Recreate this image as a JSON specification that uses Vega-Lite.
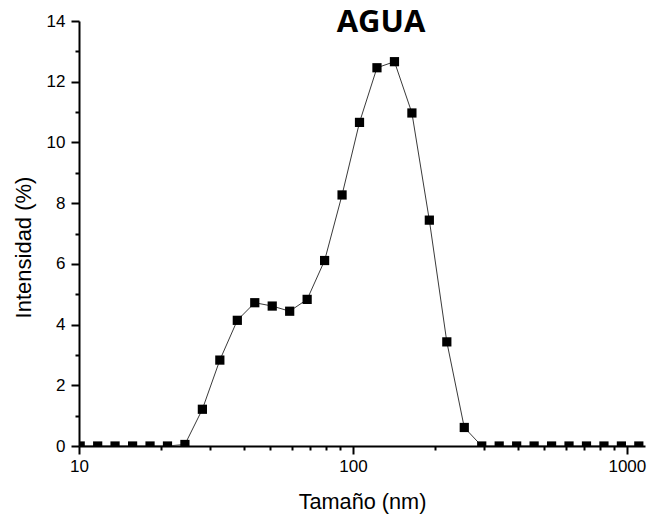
{
  "$schema": "https://vega.github.io/schema/vega-lite/v6.json",
  "width": 566,
  "height": 425,
  "autosize": {"type": "none"},
  "padding": {"left": 79, "top": 21, "right": 2, "bottom": 70},
  "background": "white",
  "title": {
    "text": "AGUA",
    "font": "Open Sans",
    "fontWeight": "bold",
    "fontSize": 31,
    "color": "black",
    "anchor": "middle",
    "frame": "group",
    "baseline": "alphabetic",
    "dx": 19,
    "offset": -51
  },
  "data": {
    "values": [
      {"size": 10.1, "intensity": 0},
      {"size": 11.7, "intensity": 0},
      {"size": 13.54, "intensity": 0},
      {"size": 15.69, "intensity": 0},
      {"size": 18.17, "intensity": 0},
      {"size": 21.04, "intensity": 0},
      {"size": 24.36, "intensity": 0.05},
      {"size": 28.21, "intensity": 1.21},
      {"size": 32.67, "intensity": 2.83},
      {"size": 37.84, "intensity": 4.14},
      {"size": 43.82, "intensity": 4.72},
      {"size": 50.75, "intensity": 4.61},
      {"size": 58.77, "intensity": 4.44},
      {"size": 68.06, "intensity": 4.83},
      {"size": 78.82, "intensity": 6.11},
      {"size": 91.28, "intensity": 8.27},
      {"size": 105.7, "intensity": 10.66},
      {"size": 122.4, "intensity": 12.46},
      {"size": 141.8, "intensity": 12.66},
      {"size": 164.2, "intensity": 10.97},
      {"size": 190.1, "intensity": 7.44},
      {"size": 220.2, "intensity": 3.43},
      {"size": 255.0, "intensity": 0.61},
      {"size": 295.3, "intensity": 0},
      {"size": 342.0, "intensity": 0},
      {"size": 396.1, "intensity": 0},
      {"size": 458.7, "intensity": 0},
      {"size": 531.2, "intensity": 0},
      {"size": 615.1, "intensity": 0},
      {"size": 712.4, "intensity": 0},
      {"size": 825.0, "intensity": 0},
      {"size": 955.4, "intensity": 0},
      {"size": 1106, "intensity": 0}
    ]
  },
  "layer": [
    {
      "mark": {"type": "line", "color": "#3a3a3a", "strokeWidth": 1, "clip": true},
      "encoding": {
        "x": {
          "field": "size",
          "type": "quantitative",
          "scale": {"type": "log", "domain": [10, 1165], "nice": false},
          "axis": {
            "orient": "bottom",
            "title": "Tamaño (nm)",
            "values": [10, 100, 1000],
            "format": "d",
            "grid": false,
            "domainColor": "black",
            "domainWidth": 2,
            "tickColor": "black",
            "tickWidth": 2,
            "tickSize": 8,
            "labelFont": "Liberation Sans",
            "labelFontSize": 17,
            "labelColor": "black",
            "labelPadding": 4,
            "labelFlush": false,
            "titleFont": "Liberation Sans",
            "titleFontSize": 21.7,
            "titleFontWeight": "normal",
            "titleColor": "black",
            "titleBaseline": "alphabetic",
            "titleY": 62
          }
        },
        "y": {
          "field": "intensity",
          "type": "quantitative",
          "scale": {"domain": [0, 14], "nice": false, "zero": true},
          "axis": {
            "orient": "left",
            "title": "Intensidad (%)",
            "values": [0, 2, 4, 6, 8, 10, 12, 14],
            "grid": false,
            "domainColor": "black",
            "domainWidth": 2,
            "tickColor": "black",
            "tickWidth": 2,
            "tickSize": 8,
            "labelFont": "Liberation Sans",
            "labelFontSize": 17,
            "labelColor": "black",
            "labelPadding": 6,
            "labelFlush": false,
            "titleFont": "Liberation Sans",
            "titleFontSize": 22,
            "titleFontWeight": "normal",
            "titleColor": "black",
            "titleAngle": -90,
            "titleAlign": "center",
            "titleBaseline": "middle",
            "titleX": -56,
            "titleY": 226
          }
        }
      }
    },
    {
      "mark": {"type": "point", "shape": "square", "filled": true, "color": "black", "opacity": 1, "size": 85, "clip": true},
      "encoding": {
        "x": {"field": "size", "type": "quantitative", "axis": null},
        "y": {"field": "intensity", "type": "quantitative", "axis": null}
      }
    },
    {
      "mark": {"type": "point", "opacity": 0},
      "encoding": {
        "x": {
          "field": "size",
          "type": "quantitative",
          "axis": {
            "orient": "bottom",
            "title": null,
            "values": [20, 30, 40, 50, 60, 70, 80, 90, 200, 300, 400, 500, 600, 700, 800, 900],
            "labels": false,
            "domain": false,
            "grid": false,
            "tickColor": "black",
            "tickWidth": 2,
            "tickSize": 4
          }
        },
        "y": {
          "field": "intensity",
          "type": "quantitative",
          "axis": {
            "orient": "left",
            "title": null,
            "values": [1, 3, 5, 7, 9, 11, 13],
            "labels": false,
            "domain": false,
            "grid": false,
            "tickColor": "black",
            "tickWidth": 2,
            "tickSize": 4
          }
        }
      }
    }
  ],
  "resolve": {"axis": {"x": "independent", "y": "independent"}},
  "config": {"view": {"stroke": null}}
}
